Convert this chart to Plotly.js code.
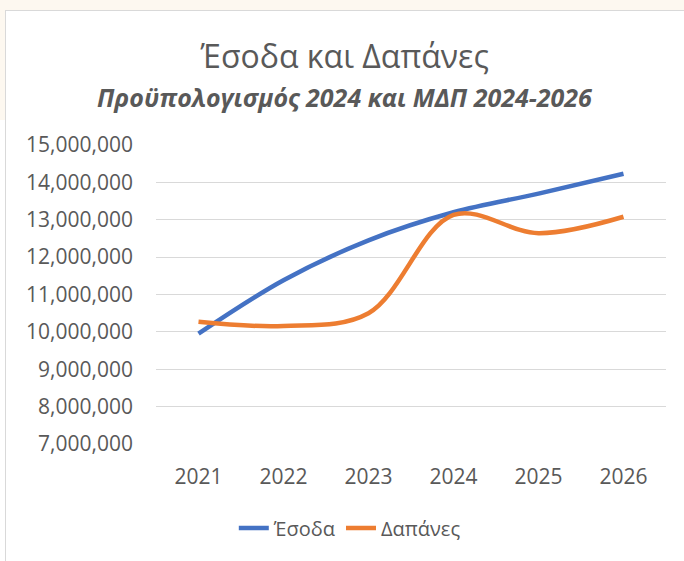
<!DOCTYPE html>
<html>
<head>
<meta charset="utf-8">
<script src="https://cdn.plot.ly/plotly-3.0.1.min.js"></script>
<style>
  body { margin: 0; background: #ffffff; }
  #bgTop { position: absolute; left: 0; top: 0; width: 684px; height: 10px; background: #fdf8f0; }
  #bgLeft { position: absolute; left: 0; top: 0; width: 5px; height: 120px; background: #fdf8f0; }
  #frame { position: absolute; left: 5px; top: 10px; width: 700px; height: 600px; border: 1.5px solid #d9d9d9; background: #ffffff; }
  #chart { position: absolute; left: 0; top: 0; width: 684px; height: 561px; }
</style>
</head>
<body>
<div id="bgTop"></div>
<div id="bgLeft"></div>
<div id="frame"></div>
<div id="chart"></div>
<script>
// data
var years = ["2021", "2022", "2023", "2024", "2025", "2026"];
var esoda = [9950000, 11380000, 12450000, 13200000, 13700000, 14230000];
var dapanes = [10270000, 10160000, 10500000, 13130000, 12640000, 13080000];
var yTicks = [7000000, 8000000, 9000000, 10000000, 11000000, 12000000, 13000000, 14000000, 15000000];

var trace1 = {
  x: years,
  y: esoda,
  type: "scatter",
  mode: "lines",
  name: "Έσοδα",
  line: { color: "#4472C4", width: 4.5, shape: "spline", smoothing: 1 }
};

var trace2 = {
  x: years,
  y: dapanes,
  type: "scatter",
  mode: "lines",
  name: "Δαπάνες",
  line: { color: "#ED7D31", width: 4.5, shape: "spline", smoothing: 1 }
};

var data = [trace1, trace2];

var layout = {
  width: 684,
  height: 561,
  margin: { l: 156, r: 18, t: 145, b: 117 },
  paper_bgcolor: "rgba(0,0,0,0)",
  plot_bgcolor: "rgba(0,0,0,0)",
  font: { family: "Open Sans, sans-serif", color: "#595959", size: 20 },
  title: {
    text: "Έσοδα και Δαπάνες",
    font: { size: 32, color: "#595959" },
    xref: "paper", x: 0.37, xanchor: "center",
    yref: "container", y: 1 - 57 / 561, yanchor: "middle"
  },
  annotations: [{
    text: "<b><i>Προϋπολογισμός 2024 και ΜΔΠ 2024-2026</i></b>",
    xref: "paper", yref: "paper",
    x: 0.37, y: 1 + 48 / 299,
    xanchor: "center", yanchor: "middle",
    showarrow: false,
    font: { size: 25, color: "#595959" }
  }],
  xaxis: {
    type: "category",
    range: [-0.5, 5.5],
    showgrid: false,
    zeroline: false,
    showline: false,
    ticks: "",
    ticklabelstandoff: 18,
    tickfont: { size: 21 }
  },
  yaxis: {
    range: [7000000, 15000000],
    tickvals: yTicks,
    tickformat: ",d",
    gridcolor: "#d9d9d9",
    gridwidth: 1.3,
    zeroline: false,
    showline: false,
    ticks: "",
    ticklabelstandoff: 22,
    tickfont: { size: 21 }
  },
  showlegend: true,
  legend: {
    orientation: "h",
    x: 0.38, xanchor: "center",
    y: -84 / 299, yanchor: "middle",
    font: { size: 20 },
    bgcolor: "rgba(0,0,0,0)"
  }
};

var config = { responsive: false, displayModeBar: false };

Plotly.newPlot("chart", data, layout, config);
</script>
</body>
</html>
